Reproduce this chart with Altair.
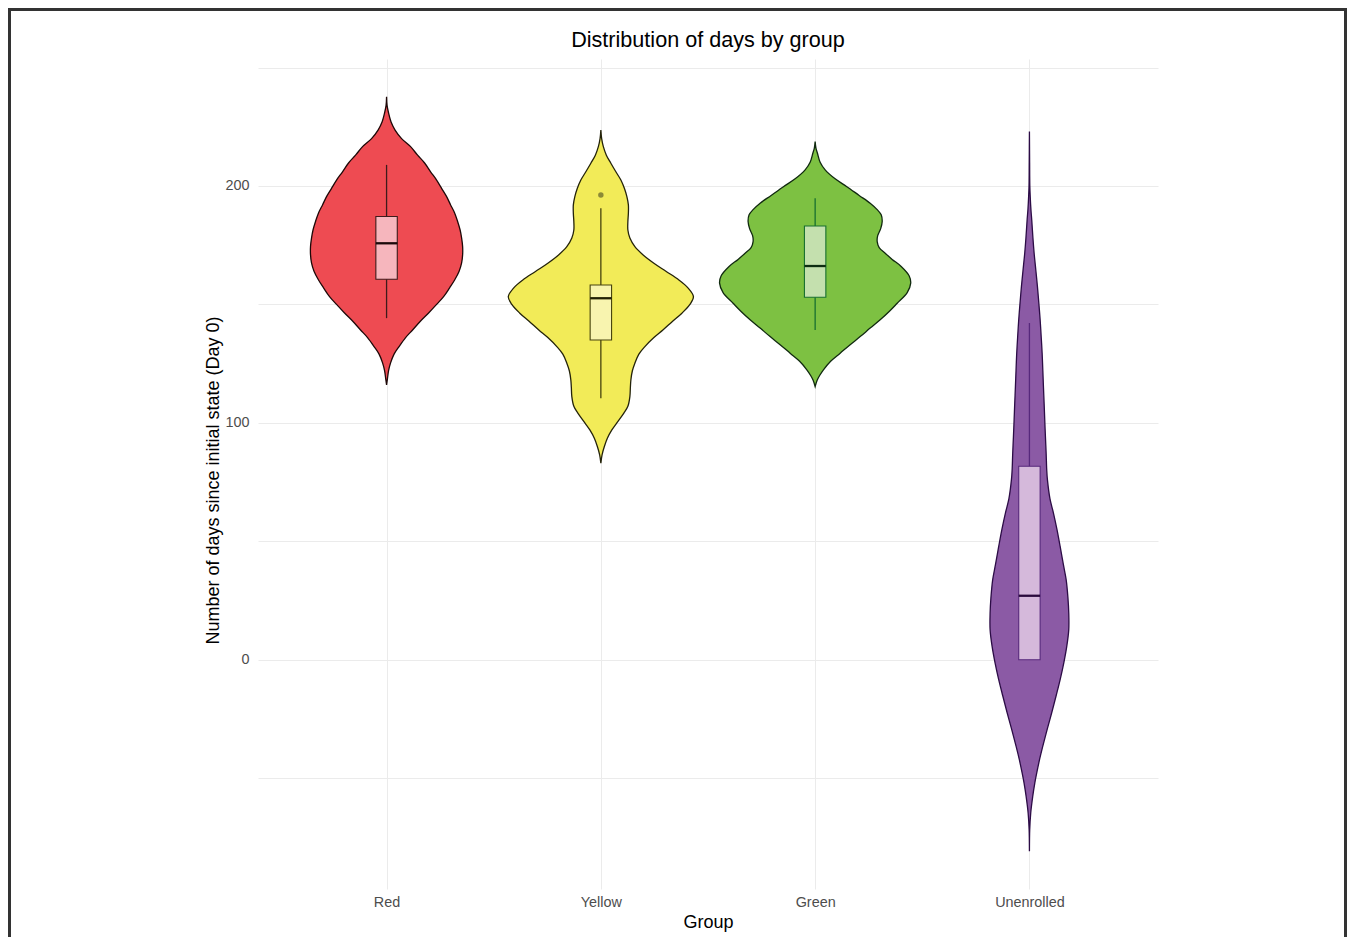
import altair as alt
import pandas as pd

# ---------------- data ----------------
groups = ["Red", "Yellow", "Green", "Unenrolled"]

# violin outlines: day value and half-width (density, arbitrary units)
red_day = [237.7, 234.0, 230.8, 227.0, 223.6, 220.0, 216.6, 213.0, 209.7, 206.0, 202.5, 199.0,
           195.5, 192.0, 188.6, 185.0, 181.4, 178.0, 174.4, 171.0, 167.5, 164.0, 160.3, 157.0,
           153.3, 150.0, 146.4, 143.0, 139.2, 136.0, 132.2, 129.0, 125.3, 122.0, 118.1, 116.0]
red_dens = [0, 0.5, 2, 4.5, 8.5, 15, 24, 31, 38, 44, 50, 55,
            60, 64, 68, 71, 73.5, 75, 76, 76, 75, 72.5, 68, 63,
            57, 50, 42, 34, 26, 19, 12.5, 7.5, 4, 2, 0.7, 0]

yellow_day = [223.6, 220.0, 216.6, 213.0, 209.6, 206.0, 202.5, 199.0, 195.5, 192.0, 188.5, 185.0,
              181.4, 178.0, 174.4, 171.0, 167.4, 164.0, 160.3, 157.0, 153.3, 150.0, 146.3, 143.0,
              139.2, 136.0, 132.2, 129.0, 125.2, 122.0, 118.1, 115.0, 111.1, 107.0, 104.1, 100.0,
              97.0, 93.5, 90.0, 86.5, 83.0]
yellow_dens = [0, 0.8, 2.5, 5.5, 10, 15, 20, 23.5, 26, 27.5, 27.5, 27,
               27, 29, 34, 42, 53, 65, 78, 87, 92.5, 89, 81, 72,
               62, 53, 44, 38, 34, 31.5, 30, 29.5, 29, 27, 23, 16,
               11, 6.5, 3.5, 1.2, 0]

green_day = [218.7, 216.0, 213.8, 210.0, 206.8, 203.0, 199.7, 196.0, 192.7, 190.0, 187.8, 185.0,
             182.0, 179.0, 176.5, 174.0, 171.6, 169.0, 166.0, 162.0, 159.0, 155.0, 150.5, 147.0,
             143.5, 140.0, 136.4, 133.0, 129.4, 126.0, 122.4, 120.0, 118.0, 115.3]
green_dens = [0, 0.8, 2.3, 5, 10, 20, 31.7, 44, 55, 62, 66, 67,
              65.5, 62.5, 62, 64, 70, 77, 86, 94, 95.5, 92, 82, 74,
              65, 55, 45, 35, 25, 15.5, 8.3, 4.5, 2, 0]

unenrolled_day = [223.0, 210.0, 200.0, 195.5, 190.0, 185.7, 178.0, 171.6, 164.0, 157.5, 150.0, 143.5,
                  136.0, 129.4, 122.0, 115.3, 108.0, 101.3, 94.0, 87.2, 80.0, 75.9, 68.0, 61.9,
                  55.0, 47.8, 40.0, 33.8, 26.0, 19.7, 12.7, 5.6, -1.0, -8.4, -15.0, -22.5,
                  -29.0, -36.6, -42.0, -47.8, -52.0, -57.7, -64.7, -71.7, -80.9]
unenrolled_dens = [0, 0.2, 0.4, 0.8, 1.5, 2.3, 3.5, 4.7, 6.5, 8, 9.5, 10.7,
                   11.8, 12.7, 13.4, 14, 14.7, 15.3, 16, 16.7, 17.3, 18, 20.5, 24,
                   27.5, 30.7, 34, 36.7, 38.5, 39.3, 39.3, 37.3, 34.5, 30.7, 26.8, 22.2,
                   18.0, 13.3, 10.2, 7.3, 5.4, 3.3, 1.3, 0.3, 0]

# boxplot statistics
whisker_low = [144.2, 110.4, 139.2, 0.0]
q1 = [160.6, 135.0, 153.0, 0.0]
median = [175.8, 152.6, 166.2, 27.0]
q3 = [187.1, 158.2, 183.1, 81.7]
whisker_high = [208.9, 190.6, 194.8, 142.1]

outlier_group = ["Yellow"]
outlier_day = [196.2]

# ---------------- styles ----------------
violin_fill = ["#EE4B52", "#F2EB58", "#7DC142", "#8B5AA5"]
violin_line = ["#1E0808", "#24230A", "#10290F", "#2C0C46"]
box_fill = ["#F6B6BD", "#F8F4AF", "#C4E0AE", "#D5B9DB"]
box_line = ["#3E1B1B", "#46430F", "#187030", "#57297C"]
median_line = ["#1A0A0A", "#222005", "#0E2E12", "#2A0A3C"]

FONT = "Liberation Sans"
HALF = 0.446      # half-width of the widest violin (x units)
BOX_HALF = 0.05   # half-width of the boxes (x units)

# ---------------- tables ----------------
days_all = [red_day, yellow_day, green_day, unenrolled_day]
dens_all = [red_dens, yellow_dens, green_dens, unenrolled_dens]
max_d = max(max(d) for d in dens_all)

rows = []
for i, g in enumerate(groups):
    for d, w in zip(days_all[i], dens_all[i]):
        rows.append({"group": g, "pos": i + 1, "day": d, "dens": w / max_d})
vdf = pd.DataFrame(rows).sort_values(["pos", "day"]).reset_index(drop=True)

bdf = pd.DataFrame({
    "group": groups,
    "pos": list(range(1, len(groups) + 1)),
    "low": whisker_low, "q1": q1, "median": median, "q3": q3, "high": whisker_high,
})
odf = pd.DataFrame({"group": outlier_group, "day": outlier_day,
                    "pos": [groups.index(g) + 1 for g in outlier_group]})

# ---------------- scales / axes ----------------
xscale = alt.Scale(domain=[0.4, len(groups) + 0.6], nice=False, zero=False)
yscale = alt.Scale(domain=[-96.8, 253.6], nice=False, zero=False)

label_expr = "[" + ",".join("'%s'" % g for g in groups) + "][datum.value - 1]"

x_axis = alt.Axis(
    values=list(range(1, len(groups) + 1)), labelExpr=label_expr, title="Group",
    grid=True, gridColor="#EBEBEB", gridWidth=1, domain=False, ticks=False,
    labelFont=FONT, labelFontSize=14.4, labelColor="#4D4D4D", labelPadding=6,
    titleFont=FONT, titleFontSize=18, titleColor="#000000", titleFontWeight="normal",
    titleY=33, titleBaseline="middle",
)
y_axis = alt.Axis(
    values=[-50, 0, 50, 100, 150, 200, 250], format="d",
    labelExpr="datum.value % 100 === 0 ? datum.label : ''",
    title="Number of days since initial state (Day 0)",
    grid=True, gridColor="#EBEBEB", gridWidth=1, domain=False, ticks=False,
    labelFont=FONT, labelFontSize=14.4, labelColor="#4D4D4D", labelPadding=9,
    titleFont=FONT, titleFontSize=18, titleColor="#000000", titleFontWeight="normal",
    titleAngle=-90, titleX=-45, titleY=421, titleAlign="center", titleBaseline="middle",
)


def X(field):
    return alt.X(field, type="quantitative", scale=xscale, axis=x_axis)


def Y(field):
    return alt.Y(field, type="quantitative", scale=yscale, axis=y_axis)


# ---------------- layers ----------------
frame = alt.Chart(pd.DataFrame({"k": [0]})).mark_rect(
    fill="white", fillOpacity=0, stroke="#333333", strokeWidth=3
).encode(x=alt.value(-248.5), x2=alt.value(1087.5), y=alt.value(-49.5), y2=alt.value(900))

violin = alt.Chart(vdf).transform_calculate(
    left="datum.pos - %f * datum.dens" % HALF,
    right="datum.pos + %f * datum.dens" % HALF,
).mark_area(orient="horizontal", interpolate="catmull-rom", strokeWidth=1.3).encode(
    y=Y("day"),
    x=X("left"),
    x2="right:Q",
    fill=alt.Fill("group:N", scale=alt.Scale(domain=groups, range=violin_fill), legend=None),
    stroke=alt.Stroke("group:N", scale=alt.Scale(domain=groups, range=violin_line), legend=None),
)

whisker = alt.Chart(bdf).mark_rule(strokeWidth=1.3).encode(
    x=X("pos"),
    y=Y("low"),
    y2="high:Q",
    color=alt.Color("group:N", scale=alt.Scale(domain=groups, range=box_line), legend=None),
)

box = alt.Chart(bdf).transform_calculate(
    bx1="datum.pos - %f" % BOX_HALF, bx2="datum.pos + %f" % BOX_HALF
).mark_rect(strokeWidth=1.1).encode(
    x=X("bx1"),
    x2="bx2:Q",
    y=Y("q1"),
    y2="q3:Q",
    fill=alt.Fill("group:N", scale=alt.Scale(domain=groups, range=box_fill), legend=None),
    stroke=alt.Stroke("group:N", scale=alt.Scale(domain=groups, range=box_line), legend=None),
)

med = alt.Chart(bdf).transform_calculate(
    bx1="datum.pos - %f" % BOX_HALF, bx2="datum.pos + %f" % BOX_HALF
).mark_rule(strokeWidth=2.3).encode(
    x=X("bx1"),
    x2="bx2:Q",
    y=Y("median"),
    color=alt.Color("group:N", scale=alt.Scale(domain=groups, range=median_line), legend=None),
)

outl = alt.Chart(odf).mark_circle(size=30, opacity=1, color="#8C8A36").encode(
    x=X("pos"),
    y=Y("day"),
)

chart = alt.layer(frame, violin, whisker, box, med, outl).resolve_scale(
    fill="independent", stroke="independent", color="independent"
).properties(
    width=900, height=830,
    padding={"left": 250, "top": 51, "right": 190, "bottom": 48},
    autosize=alt.AutoSizeParams(type="none"),
    background="white",
    title=alt.TitleParams(
        "Distribution of days by group", font=FONT, fontSize=21.6, fontWeight="normal",
        color="#000000", anchor="middle", frame="group", offset=-61, baseline="alphabetic",
    ),
).configure_view(strokeWidth=0)

chart.save("out.html", embed_options={"renderer": "svg", "actions": False})
